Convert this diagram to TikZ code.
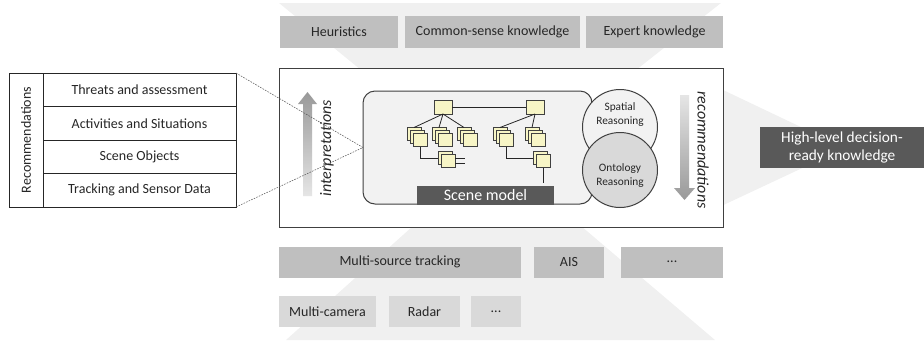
\documentclass[tikz,border=0pt]{standalone}
\usepackage{fontspec}
\setmainfont{Carlito}
\usetikzlibrary{positioning,shadows,calc}

\definecolor{bgshape}{HTML}{F0F0F0}
\definecolor{midgray}{HTML}{BFBFBF}
\definecolor{lightfill}{HTML}{D9D9D9}
\definecolor{scenefill}{HTML}{F2F2F2}
\definecolor{darkfill}{HTML}{595959}
\definecolor{leafyellow}{HTML}{F7F5C6}
\definecolor{linegray}{HTML}{404040}
\definecolor{textgray}{HTML}{262626}

\begin{document}
\begin{tikzpicture}[x=0.75pt,y=-0.75pt,
  font=\fontsize{10.5}{12.6}\selectfont,
  pxbox/.style n args={2}{minimum width={#1*0.75pt},minimum height={#2*0.75pt},inner sep=0pt,outer sep=0pt},
  knowbox/.style={fill=midgray,text=textgray},
  sensorbox/.style={fill=lightfill,text=textgray},
  darkbox/.style={fill=darkfill,text=white,align=center},
  layerbox/.style={draw=black!85,line width=0.6pt,text=textgray},
  reasoning/.style={circle,draw=linegray,line width=0.75pt,minimum size={75*0.75pt},inner sep=0pt,outer sep=0pt},
  reasontext/.style={align=center,text=textgray,font=\fontsize{8.5}{10.5}\selectfont},
  leaf/.style={draw=linegray,fill=leafyellow,line width=0.5pt,pxbox={14}{13}},
  leafstack/.style={leaf,double copy shadow={shadow xshift=-2.25pt,shadow yshift=2.25pt,fill=leafyellow,draw=linegray}},
  leafpair/.style={leaf,copy shadow={shadow xshift=-2.25pt,shadow yshift=2.25pt,fill=leafyellow,draw=linegray}},
  treeline/.style={draw=black!85,line width=0.6pt},
  zoomline/.style={draw=black!65,line width=0.4pt,dash pattern=on 1.2pt off 0.9pt},
  sidelabel/.style={text=textgray,font=\fontsize{12}{14}\selectfont\itshape}]

  \useasboundingbox (0,0) rectangle (924,340);

  % light funnel behind everything
  \fill[bgshape] (279,3) -- (721,3) -- (636,70) -- (361,70) -- cycle;
  \fill[bgshape] (413,226) -- (581,226) -- (715,340) -- (286,340) -- cycle;
  \fill[bgshape] (700,79) -- (845,148) -- (700,216) -- cycle;

  % knowledge on top
  \node[knowbox,pxbox={118}{32}] (heur) at (339,32) {Heuristics};
  \node[knowbox,pxbox={175}{32}] (common) at (492.5,32) {Common-sense knowledge};
  \node[knowbox,pxbox={137}{32}] (expert) at (654.5,32) {Expert knowledge};

  % sources below
  \node[knowbox,pxbox={242}{31}] (tracking) at (400,262) {Multi-source tracking};
  \node[knowbox,pxbox={70}{31}] (ais) at (569,262) {AIS};
  \node[knowbox,pxbox={102}{31}] (moresrc) at (672,262) {...};
  \node[sensorbox,pxbox={97}{31}] (camera) at (327.5,311.5) {Multi-camera};
  \node[sensorbox,pxbox={71}{31}] (radar) at (424.5,311.5) {Radar};
  \node[sensorbox,pxbox={50}{31}] (moresens) at (496,311.5) {...};

  % main frame
  \node[draw=linegray,fill=white,line width=0.75pt,pxbox={444}{159}] (mainbox) at (501,147.5) {};

  % output
  \node[darkbox,pxbox={164}{41},font=\fontsize{11.5}{13.8}\selectfont] (output) at (842,147.5) {High-level decision-\\ready knowledge};

  % layer stack on the left
  \node[layerbox,rotate=90,pxbox={134}{34}] (recs) at (26,140) {Recommendations};
  \node[layerbox,pxbox={193}{33.5},anchor=north west] (threats) at (43,73) {Threats and assessment};
  \node[layerbox,pxbox={193}{33.5},below=0pt of threats] (activities) {Activities and Situations};
  \node[layerbox,pxbox={193}{33.5},below=0pt of activities] (objects) {Scene Objects};
  \node[layerbox,pxbox={193}{33.5},below=0pt of objects] (sensordata) {Tracking and Sensor Data};

  % arrows inside the frame
  \shade[top color=black!40,bottom color=black!10]
    (303,196) -- (303,104) -- (298,104) -- (307.5,92) -- (317,104) -- (312,104) -- (312,196) -- cycle;
  \shade[top color=black!10,bottom color=black!40]
    (680,95) -- (680,188) -- (674,188) -- (684.5,200) -- (695,188) -- (689,188) -- (689,95) -- cycle;
  \node[sidelabel,rotate=90] (interp) at (327,148) {interpretations};
  \node[sidelabel,rotate=-90] (recom) at (703,150) {recommendations};

  % scene model
  \node[draw=linegray,fill=scenefill,rounded corners=9pt,line width=0.75pt,pxbox={229}{113}] (scene) at (477.5,147.5) {};
  \node[darkbox,pxbox={137}{19},font=\fontsize{12}{14}\selectfont] (scenelabel) at (485.5,195) {Scene model};
  \node[reasoning,fill=scenefill] (spatial) at (620,127) {};
  \node[reasontext] (spatialtext) at (620,115) {Spatial\\Reasoning};
  \node[reasoning,fill=lightfill] (ontology) at (620,170) {};
  \node[reasontext] (ontologytext) at (620,176) {Ontology\\Reasoning};

  % small object trees
  \node[leaf,pxbox={18}{14}] (lroot) at (443,107) {};
  \node[leaf,pxbox={18}{14}] (rroot) at (535,107) {};
  \node[leafstack] (l1) at (420,140) {};
  \node[leafstack] (l2) at (445,140) {};
  \node[leafstack] (l3) at (470,140) {};
  \node[leafpair] (l4) at (448,161) {};
  \node[leafstack] (r1) at (506,140) {};
  \node[leafstack] (r2) at (538,140) {};
  \node[leafpair] (r3) at (543,161) {};

  \draw[treeline] (lroot) -- (rroot);
  \foreach \c in {l1,l2,l3}
    \draw[treeline] (lroot.south) -- ($(\c.north)+(-6,-6)$);
  \foreach \c in {r1,r2}
    \draw[treeline] (rroot.south) -- ($(\c.north)+(-6,-6)$);
  \draw[treeline] (l1.south) |- ($(l4.west)+(-3,-3)$);
  \draw[treeline] (r1.south) |- ($(r3.west)+(-3,-3)$);
  \draw[treeline] ($(l4.east)+(0,-3)$) -- ++(10,0);
  \draw[treeline] ($(l4.east)+(0,2)$) -- ++(10,0);
  \draw[treeline] (r3.south) -- ++(0,15);

  % zoom lines from the layer stack
  \draw[zoomline] (threats.north east) -- (scene.west);
  \draw[zoomline] (sensordata.south east) -- (scene.west);

\end{tikzpicture}
\end{document}
